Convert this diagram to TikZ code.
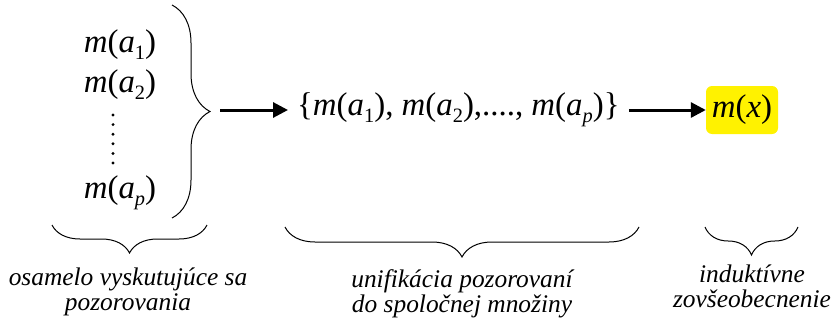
\documentclass[tikz,border=0pt]{standalone}
\usepackage{fontspec}
\usepackage{graphicx}
\newfontfamily\tnr{Liberation Serif}
\usetikzlibrary{arrows.meta,decorations.pathreplacing}
\newcommand{\lowidx}[1]{\raisebox{-0.2em}{\scalebox{0.62}{#1}}}
\newcommand{\mof}[1]{\textit{m}(#1)}
\newcommand{\asub}[1]{\textit{a}\lowidx{#1}}
\newcommand{\captlines}[2]{\scalebox{0.85}{\begin{tabular}{@{}c@{}}#1\\#2\end{tabular}}}
\tikzset{
    obs/.style={font=\fontsize{30}{30}\selectfont\tnr, inner sep=0pt},
    arr/.style={line width=3bp, -{Triangle[length=15bp,width=15bp]}},
    bracedeco/.style={decorate, decoration={brace, amplitude=#1}, line width=1bp},
    captxt/.style={font=\fontsize{30}{29.5}\selectfont\tnr\itshape, inner sep=0pt}
}
\begin{document}
\begin{tikzpicture}[x=1bp,y=1bp]
        \useasboundingbox (0,0) rectangle (831,320);

        % Observations
        \node[obs] (ma1) at (120,275) {\scalebox{1.1}{\mof{\asub{1}}}};
        \node[obs] (ma2) at (120,235) {\scalebox{1.1}{\mof{\asub{2}}}};
        \node[obs] (map) at (120,127) {\scalebox{1.1}{\mof{\asub{\textit{p}}}}};
        \foreach \i in {0,...,5} {
                \fill (113,205-9.6*\i) circle (1.6bp);
            }
        \coordinate (bt) at (172,315);
        \coordinate (bb) at (172,102);
        \draw[bracedeco=38bp] (bt) -- (bb);

        % Set of observations
        \coordinate (tip) at (220,210);
        \node[obs, anchor=west, inner xsep=9bp] (set) at (288,210)
            {\scalebox{1.1}{\{\mof{\asub{1}}, \mof{\asub{2}},...., \mof{\asub{\textit{p}}}\}}};
        \draw[arr] (tip) -- (set);

        % Generalization
        \node[obs, fill=yellow, rounded corners=6bp, minimum width=72bp,
            minimum height=48bp] (mx) at (742,210) {\scalebox{1.1}{\mof{\textit{x}}}};
        \draw[arr] (set) -- (mx);

        % Captions
        \coordinate (b1r) at (207,95);
        \coordinate (b1l) at (52,95);
        \draw[bracedeco=28bp] (b1r) -- (b1l);
        \node[captxt] (c1) at (128,27) {\captlines{osamelo vyskutujúce sa}{pozorovania}};

        \coordinate (b2r) at (639,93);
        \coordinate (b2l) at (285,93);
        \draw[bracedeco=30bp] (b2r) -- (b2l);
        \node[captxt] (c2) at (462,25) {\captlines{unifikácia pozorovaní}{do spoločnej množiny}};

        \coordinate (b3r) at (798,93);
        \coordinate (b3l) at (705,93);
        \draw[bracedeco=28bp] (b3r) -- (b3l);
        \node[captxt] (c3) at (752,30) {\captlines{induktívne}{zovšeobecnenie}};
    \end{tikzpicture}
\end{document}
